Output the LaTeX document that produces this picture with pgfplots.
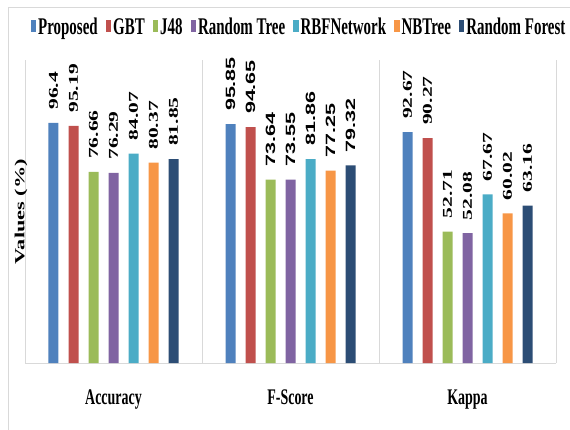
\documentclass[border=0pt]{standalone}
\usepackage{pgfplots}
\pgfplotsset{compat=1.18}
\usepackage{fontspec}
\setmainfont{Liberation Serif}
\newfontfamily\lsans{Liberation Sans}
\definecolor{c1}{HTML}{4F81BD}
\definecolor{c2}{HTML}{C0504D}
\definecolor{c3}{HTML}{9BBB59}
\definecolor{c4}{HTML}{8064A2}
\definecolor{c5}{HTML}{4BACC6}
\definecolor{c6}{HTML}{F79646}
\definecolor{c7}{HTML}{2C4D75}
\definecolor{frame}{HTML}{D9D9D9}
\begin{document}
\begin{tikzpicture}
\path[use as bounding box] (0,0) rectangle (570bp,430bp);
\draw[color=frame, line width=0.8bp] (8bp,0) -- (8bp,423bp) -- (570bp,423bp);
\begin{axis}[
  at={(25bp,67bp)}, anchor=south west,
  scale only axis, width=531bp, height=303bp,
  xmin=-0.5, xmax=2.5, ymin=0, ymax=121.6,
  ybar=10bp, bar width=10bp,
  xtick={0,1,2},
  xticklabels={{\scalebox{1}[1.6]{Accuracy}},{\scalebox{1}[1.6]{F-Score}},{\scalebox{1}[1.6]{Kappa}}},
  xticklabel style={font=\fontsize{14}{16}\selectfont\bfseries, anchor=base, yshift=-41bp},
  major tick length=0pt, minor tick length=0pt,
  minor xtick={-0.5,0.5,1.5,2.5}, xminorgrids=true,
  minor grid style={draw=frame, line width=0.8bp},
  ytick=\empty,
  axis x line*=bottom, axis y line*=left,
  x axis line style={-, draw=frame, line width=0.8bp},
  y axis line style={draw=none},
  ylabel={\scalebox{1.6}[1]{Values (\%)}},
  ylabel style={at={(axis description cs:-0.0075,0.5)}, anchor=center, font=\fontsize{14}{16}\selectfont\bfseries},
  every axis plot/.append style={draw=none},
  point meta=explicit symbolic,
  nodes near coords={\scalebox{1.6}[1]{\pgfplotspointmeta}},
  nodes near coords style={font=\fontsize{13.5}{14}\selectfont\bfseries, yshift=13bp, rotate=90, anchor=west, inner sep=0pt, text=black},
  legend style={at={(axis description cs:0.516,1.108)}, anchor=center, draw=none, fill=none,
    font=\fontsize{15}{17}\selectfont\bfseries,
    /tikz/every even column/.append style={column sep=6bp}},
  legend columns=7,
  legend image code/.code={\fill[#1] (0bp,-5bp) rectangle (5.5bp,7bp);},
  clip=false,
]
\addplot[fill=c1] coordinates {(0,96.4) [96.4] (1,95.85) [{\lsans 95.85}] (2,92.67) [92.67]};
\addplot[fill=c2] coordinates {(0,95.19) [95.19] (1,94.65) [{\lsans 94.65}] (2,90.27) [90.27]};
\addplot[fill=c3] coordinates {(0,76.66) [76.66] (1,73.64) [{\lsans 73.64}] (2,52.71) [52.71]};
\addplot[fill=c4] coordinates {(0,76.29) [76.29] (1,73.55) [{\lsans 73.55}] (2,52.08) [52.08]};
\addplot[fill=c5] coordinates {(0,84.07) [84.07] (1,81.86) [{\lsans 81.86}] (2,67.67) [67.67]};
\addplot[fill=c6] coordinates {(0,80.37) [80.37] (1,77.25) [{\lsans 77.25}] (2,60.02) [60.02]};
\addplot[fill=c7] coordinates {(0,81.85) [81.85] (1,79.32) [{\lsans 79.32}] (2,63.16) [63.16]};
\legend{{\scalebox{1}[1.6]{Proposed}},{\scalebox{1}[1.6]{GBT}},{\scalebox{1}[1.6]{J48}},{\scalebox{1}[1.6]{Random Tree}},{\scalebox{1}[1.6]{RBFNetwork}},{\scalebox{1}[1.6]{NBTree}},{\scalebox{1}[1.6]{Random Forest}}}
\end{axis}
\end{tikzpicture}
\end{document}
